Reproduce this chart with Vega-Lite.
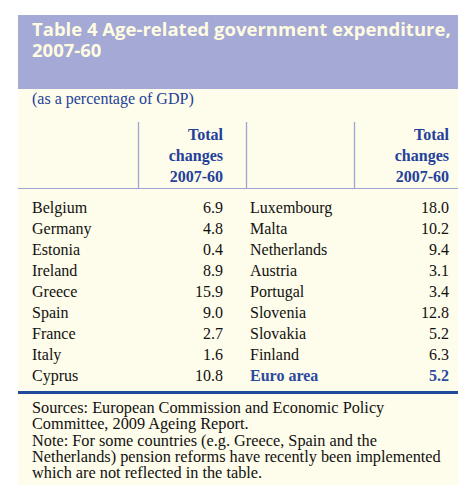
{
  "$schema": "https://vega.github.io/schema/vega-lite/v6.json",
  "width": 440,
  "height": 470,
  "autosize": {"type": "none"},
  "padding": {"left": 18, "top": 15, "right": 0, "bottom": 0},
  "background": "white",
  "config": {"view": {"stroke": null, "fill": "#FEFCEA"}},
  "data": {"values": [
    {"country": "Belgium", "value": 6.9, "col": 1, "row": 1},
    {"country": "Germany", "value": 4.8, "col": 1, "row": 2},
    {"country": "Estonia", "value": 0.4, "col": 1, "row": 3},
    {"country": "Ireland", "value": 8.9, "col": 1, "row": 4},
    {"country": "Greece", "value": 15.9, "col": 1, "row": 5},
    {"country": "Spain", "value": 9.0, "col": 1, "row": 6},
    {"country": "France", "value": 2.7, "col": 1, "row": 7},
    {"country": "Italy", "value": 1.6, "col": 1, "row": 8},
    {"country": "Cyprus", "value": 10.8, "col": 1, "row": 9},
    {"country": "Luxembourg", "value": 18.0, "col": 2, "row": 1},
    {"country": "Malta", "value": 10.2, "col": 2, "row": 2},
    {"country": "Netherlands", "value": 9.4, "col": 2, "row": 3},
    {"country": "Austria", "value": 3.1, "col": 2, "row": 4},
    {"country": "Portugal", "value": 3.4, "col": 2, "row": 5},
    {"country": "Slovenia", "value": 12.8, "col": 2, "row": 6},
    {"country": "Slovakia", "value": 5.2, "col": 2, "row": 7},
    {"country": "Finland", "value": 6.3, "col": 2, "row": 8},
    {"country": "Euro area", "value": 5.2, "col": 2, "row": 9}
  ]},
  "layer": [
    {
      "data": {"values": [{}]},
      "mark": {"type": "rect", "color": "#A4A9D5"},
      "encoding": {"x": {"value": 0}, "x2": {"value": 440}, "y": {"value": 0}, "y2": {"value": 74}}
    },
    {
      "data": {"values": [{}]},
      "mark": {"type": "text", "align": "left", "baseline": "alphabetic", "font": "Open Sans", "fontWeight": "bold", "fontSize": 18.5, "lineHeight": 21, "color": "#FFFCE2",
        "text": ["Table 4 Age-related government expenditure,", "2007-60"]},
      "encoding": {"x": {"value": 14}, "y": {"value": 21}}
    },
    {
      "data": {"values": [{}]},
      "mark": {"type": "text", "align": "left", "baseline": "alphabetic", "font": "Liberation Serif", "fontSize": 16, "color": "#23419A",
        "text": "(as a percentage of GDP)"},
      "encoding": {"x": {"value": 14}, "y": {"value": 89}}
    },
    {
      "data": {"values": [{"col": 1}, {"col": 2}]},
      "mark": {"type": "text", "align": "right", "baseline": "alphabetic", "font": "Liberation Serif", "fontWeight": "bold", "fontSize": 16, "lineHeight": 21, "color": "#23419A",
        "text": ["Total", "changes", "2007-60"]},
      "encoding": {
        "x": {"field": "col", "type": "ordinal", "scale": {"type": "point", "domain": [1, 2], "range": [205, 431], "padding": 0}, "axis": null},
        "y": {"value": 125}
      }
    },
    {
      "data": {"values": [{"p": 1}, {"p": 2}, {"p": 3}]},
      "mark": {"type": "rule", "color": "#9EA4D3", "strokeWidth": 1.3},
      "encoding": {
        "x": {"field": "p", "type": "ordinal", "scale": {"type": "point", "domain": [1, 2, 3], "range": [120.5, 336.5], "padding": 0}, "axis": null},
        "y": {"value": 107},
        "y2": {"value": 173}
      }
    },
    {
      "data": {"values": [{}]},
      "mark": {"type": "rule", "color": "#9EA4D3", "strokeWidth": 1},
      "encoding": {"x": {"value": 0}, "x2": {"value": 440}, "y": {"value": 173.5}}
    },
    {
      "transform": [{"filter": "datum.country !== 'Euro area'"}],
      "mark": {"type": "text", "align": "left", "baseline": "alphabetic", "font": "Liberation Serif", "fontSize": 16, "color": "#111111"},
      "encoding": {
        "x": {"field": "col", "type": "ordinal", "scale": {"type": "point", "domain": [1, 2], "range": [14, 232], "padding": 0}, "axis": null},
        "y": {"field": "row", "type": "ordinal", "scale": {"type": "point", "domain": [1, 2, 3, 4, 5, 6, 7, 8, 9], "range": [198, 366], "padding": 0}, "axis": null},
        "text": {"field": "country"}
      }
    },
    {
      "transform": [{"filter": "datum.country !== 'Euro area'"}],
      "mark": {"type": "text", "align": "right", "baseline": "alphabetic", "font": "Liberation Serif", "fontSize": 16, "color": "#111111"},
      "encoding": {
        "x": {"field": "col", "type": "ordinal", "scale": {"type": "point", "domain": [1, 2], "range": [205, 431], "padding": 0}, "axis": null},
        "y": {"field": "row", "type": "ordinal", "scale": {"type": "point", "domain": [1, 2, 3, 4, 5, 6, 7, 8, 9], "range": [198, 366], "padding": 0}, "axis": null},
        "text": {"field": "value", "type": "quantitative", "format": ".1f"}
      }
    },
    {
      "transform": [{"filter": "datum.country === 'Euro area'"}],
      "mark": {"type": "text", "align": "left", "baseline": "alphabetic", "font": "Liberation Serif", "fontWeight": "bold", "fontSize": 16, "color": "#2A4A9E"},
      "encoding": {
        "x": {"field": "col", "type": "ordinal", "scale": {"type": "point", "domain": [1, 2], "range": [14, 232], "padding": 0}, "axis": null},
        "y": {"field": "row", "type": "ordinal", "scale": {"type": "point", "domain": [1, 2, 3, 4, 5, 6, 7, 8, 9], "range": [198, 366], "padding": 0}, "axis": null},
        "text": {"field": "country"}
      }
    },
    {
      "transform": [{"filter": "datum.country === 'Euro area'"}],
      "mark": {"type": "text", "align": "right", "baseline": "alphabetic", "font": "Liberation Serif", "fontWeight": "bold", "fontSize": 16, "color": "#2A4A9E"},
      "encoding": {
        "x": {"field": "col", "type": "ordinal", "scale": {"type": "point", "domain": [1, 2], "range": [205, 431], "padding": 0}, "axis": null},
        "y": {"field": "row", "type": "ordinal", "scale": {"type": "point", "domain": [1, 2, 3, 4, 5, 6, 7, 8, 9], "range": [198, 366], "padding": 0}, "axis": null},
        "text": {"field": "value", "type": "quantitative", "format": ".1f"}
      }
    },
    {
      "data": {"values": [{}]},
      "mark": {"type": "rule", "color": "#1F4A9C", "strokeWidth": 3},
      "encoding": {"x": {"value": 0}, "x2": {"value": 440}, "y": {"value": 377.5}}
    },
    {
      "data": {"values": [{}]},
      "mark": {"type": "text", "align": "left", "baseline": "alphabetic", "font": "Liberation Serif", "fontSize": 16.3, "lineHeight": 16.3, "color": "#111111",
        "text": ["Sources: European Commission and Economic Policy", "Committee, 2009 Ageing Report.", "Note: For some countries (e.g. Greece, Spain and the", "Netherlands) pension reforms have recently been implemented", "which are not reflected in the table."]},
      "encoding": {"x": {"value": 14}, "y": {"value": 398}}
    }
  ],
  "resolve": {"scale": {"x": "independent", "y": "independent"}}
}
